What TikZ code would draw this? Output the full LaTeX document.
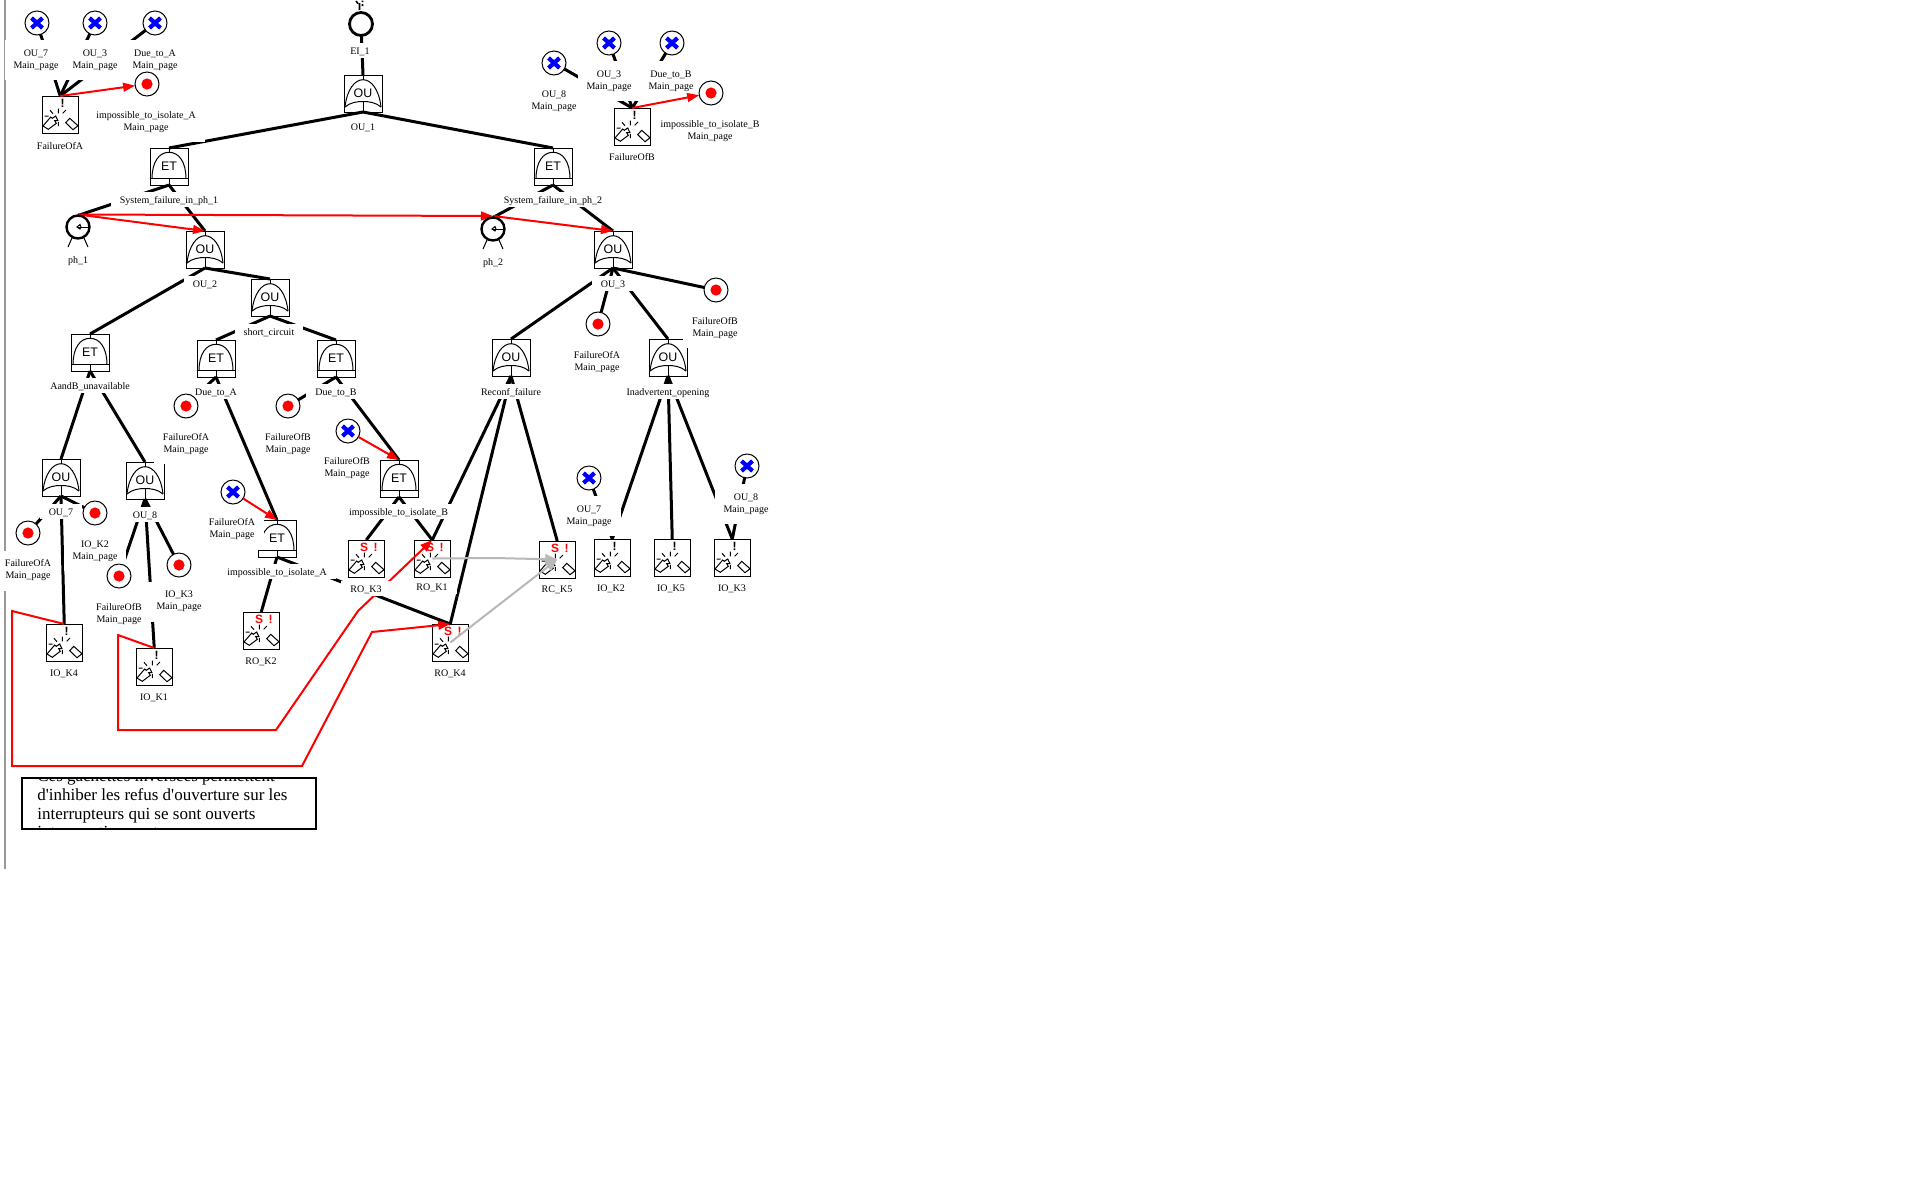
\documentclass[tikz,border=0pt]{standalone}
\usepackage{fontspec}
\setmainfont{Liberation Serif}
\newfontfamily\arialf{Liberation Sans}
\newfontfamily\notef{Liberation Serif}
\usetikzlibrary{arrows.meta}
\pgfdeclarelayer{front}
\pgfsetlayers{main,front}
\tikzset{
  gatebase/.style={draw,line width=.5pt,fill=white,rectangle,inner sep=0pt,outer sep=0pt,
    minimum width=19pt,minimum height=18.5pt},
  gatetxt/.style={inner sep=0pt,font=\arialf\fontsize{6.2pt}{7pt}\selectfont},
  orgate/.style={gatebase,path picture={
      \draw[line width=.5pt] (0,-18.5)--(0,-13.8) (0,8)--(0,18.5);
      \draw[line width=.5pt] (-18,13.5) .. controls (-16,-4.5) and (-8,-13.8) .. (0,-13.8) .. controls (8,-13.8) and (16,-4.5) .. (18,13.5);
      \draw[line width=.5pt] (-18,13.5) .. controls (-13,9) and (-6,8) .. (0,8) .. controls (6,8) and (13,9) .. (18,13.5);
      \node[gatetxt] at (0,-.5) {#1};
    }},
  andgate/.style={gatebase,path picture={
      \draw[line width=.5pt] (0,-18.5)--(0,-14.2) (0,12.2)--(0,18.5) (-19,12.2)--(19,12.2);
      \draw[line width=.5pt] (-17,12.2) .. controls (-17,-4.5) and (-10,-14.2) .. (0,-14.2) .. controls (10,-14.2) and (17,-4.5) .. (17,12.2);
      \node[gatetxt] at (0,-.5) {#1};
    }},
  evbase/.style={draw,line width=.5pt,fill=white,rectangle,inner sep=0pt,outer sep=0pt,
    minimum width=18.25pt,minimum height=18.5pt},
  evpic/.pic={
      \draw[line width=.5pt] (-17.25,11.5)--(-9.55,2.5)--(-7.95,3.8)--(-4.55,1.5)--(-2.25,6.2)--(-5.55,6.2)--(-3.95,8.8)--(-11.95,14.8)--cycle;
      \draw[line width=.5pt] (5.45,8.2)--(9.45,3.8)--(17.75,11.2)--(12.75,15.2)--cycle;
      \draw[line width=.5pt] (-1.95,-5.8)--(-1.95,-1.2) (-10.25,-4.2)--(-7.25,-.8) (5.75,-4.5)--(2.45,-1.2)
        (-15.55,1.5)--(-11.55,1.5) (-1.95,7.5)--(-1.95,11.5);
  },
  plainev/.style={evbase,path picture={
      \pic {evpic};
      \node[inner sep=0pt,font=\arialf\bfseries\fontsize{6pt}{6pt}\selectfont] at (2.45,-11.2) {!};
    }},
  sev/.style={evbase,path picture={
      \pic {evpic};
      \node[inner sep=0pt,text=red,font=\arialf\bfseries\fontsize{6pt}{6pt}\selectfont] at (-2.25,-11.2) {S};
      \node[inner sep=0pt,text=red,font=\arialf\bfseries\fontsize{6pt}{6pt}\selectfont] at (9.45,-11.2) {!};
    }},
  xc/.style={circle,draw,line width=.5pt,fill=white,minimum size=12pt,inner sep=0pt,outer sep=0pt,
    path picture={
      \draw[blue,line width=2.1pt] (-5.5,-5)--(5.5,5);
      \draw[blue,line width=2.1pt] (-5.5,5)--(5.5,-5);
    }},
  rc/.style={circle,draw,line width=.5pt,fill=white,minimum size=12pt,inner sep=0pt,outer sep=0pt,
    path picture={\fill[red] (0,0) circle[radius=5.6];}},
  clk/.style={circle,draw,line width=1.2pt,fill=white,minimum size=11.5pt,inner sep=0pt,outer sep=0pt,
    path picture={
        \draw[line width=.5pt] (-1,0)--(12,0);
        \draw[line width=.5pt] (-1,0)--(2,-2.5)--(3,0)--(2,2)--cycle;
      }},
  ring/.style={circle,draw,line width=1.4pt,fill=white,minimum size=11.5pt,inner sep=0pt,outer sep=0pt},
  lab/.style={fill=white,inner xsep=4.5pt,inner ysep=0pt,outer sep=0pt,
    text height=5.65pt,text depth=1.85pt,yshift=.25pt,
    font=\fontsize{5pt}{6pt}\selectfont},
  lab2/.style={fill=white,inner xsep=4.5pt,inner ysep=0pt,outer sep=0pt,align=center,
    minimum height=20pt,yshift=-.5pt,
    font=\fontsize{5pt}{6pt}\selectfont},
  blk/.style={line width=1.5pt,black},
  rarr/.style={line width=1pt,red,-{Triangle[length=6pt,width=4.4pt]}},
  garr/.style={line width=1pt,black!28,-{Triangle[length=6pt,width=5pt]}},
  notetxt/.style={anchor=base west,inner sep=0pt,font=\notef\fontsize{8.5pt}{9.5pt}\selectfont},
}
\begin{document}
\begin{tikzpicture}[x=.5pt,y=-.5pt]
\useasboundingbox (0,0) rectangle (1920,1200);
\fill[white] (0,0) rectangle (1920,1200);
\draw[black!40,line width=.9pt] (5,0)--(5,869);

% gates
\node[orgate=OU] (ou1) at (363,93.5) {};
\node[andgate=ET] (et1) at (169,166.5) {};
\node[andgate=ET] (et2) at (553,166.5) {};
\node[orgate=OU] (ou2) at (205,249.5) {};
\node[orgate=OU] (ou3) at (613,249.5) {};
\node[orgate=OU] (sc) at (270,297.5) {};
\node[andgate=ET] (ab) at (90,352.5) {};
\node[andgate=ET] (da) at (216,358.5) {};
\node[andgate=ET] (db) at (336,358.5) {};
\node[orgate=OU] (ou7) at (61,477.5) {};
\node[orgate=OU] (ou8) at (145,480.5) {};
\node[andgate=ET] (ia) at (277,538.5) {};
\node[andgate=ET] (ib) at (399,478.5) {};
\node[orgate=OU] (rf) at (511,357.5) {};
\node[orgate=OU] (io) at (668,357.5) {};

% basic events
\node[plainev] (fa) at (60.25,114.5) {};
\node[plainev] (fb) at (632.25,126.5) {};
\node[plainev] (k4) at (64.25,642.5) {};
\node[plainev] (k1) at (154.25,666.5) {};
\node[sev] (r2) at (261.25,630.5) {};
\node[sev] (r4) at (450.25,642.5) {};
\node[sev] (r3) at (366.25,558.5) {};
\node[sev] (r1) at (432.25,558.5) {};
\node[sev] (c5) at (557.25,559.5) {};
\node[plainev] (k2b) at (612.25,557.5) {};
\node[plainev] (k5b) at (672.25,557.5) {};
\node[plainev] (k3b) at (732.25,557.5) {};

\begin{pgfonlayer}{front}
% transfer circles
\node[xc] (x1) at (37,23) {};
\node[xc] (x2) at (95,23) {};
\node[xc] (x3) at (155,23) {};
\node[rc] (ra) at (147,84) {};
\node[xc] (x4) at (554,63) {};
\node[xc] (x5) at (609,43) {};
\node[xc] (x6) at (672,43) {};
\node[rc] (rb) at (711,93) {};
\node[rc] (c1) at (186,406) {};
\node[rc] (c2) at (288,406) {};
\node[xc] (x7) at (348,431) {};
\node[xc] (x8) at (233,492) {};
\node[rc] (c3) at (28,533) {};
\node[rc] (c4) at (95,513) {};
\node[rc] (c5r) at (119,576) {};
\node[rc] (c6) at (179,565) {};
\node[rc] (c7) at (598,324) {};
\node[rc] (c8) at (716,290) {};
\node[xc] (x9) at (589,478) {};
\node[xc] (x10) at (747,466) {};

% top event and phases
\node[ring] (ei) at (361,24) {};
\draw[line width=.8pt] (356,1)--(358,3.5) (359.5,3)--(359.5,10) (362.5,.5)--(362.5,2) (362.5,4)--(362.5,6);
\node[clk] (ph1) at (78,227) {};
\node[clk] (ph2) at (493,229) {};
\draw[line width=.5pt] (ph1.center)++(-6,11)--++(-4,9) (ph1.center)++(6,11)--++(4,9);
\draw[line width=.5pt] (ph2.center)++(-6,11)--++(-4,9) (ph2.center)++(6,11)--++(4,9);

% red arrows that pass over the labels
\draw[rarr] (x7)--(ib.north);
\draw[rarr] (x8)--(ia.north);
\draw[rarr] (fb.north)--(rb);
\end{pgfonlayer}

% bend points
\coordinate (a1) at (12,611);
\coordinate (a2) at (12,766);
\coordinate (a3) at (302,766);
\coordinate (a4) at (372,632);
\coordinate (b1) at (118,635);
\coordinate (b2) at (118,730);
\coordinate (b3) at (276,730);
\coordinate (b4) at (358,611);
\coordinate (g1) at (495,558);
\coordinate (p1) at ([yshift=.5pt]ph1.north);
\coordinate (p2) at ([yshift=.75pt]ph2.north);

% black connectors
\draw[blk] (ei)--(ou1.north);
\draw[blk] (ou1.south)--(et1.north);
\draw[blk] (ou1.south)--(et2.north);
\draw[blk] (et1.south)--(ph1.north);
\draw[blk] (et1.south)--(ou2.north);
\draw[blk] (et2.south)--(ph2.north);
\draw[blk] (et2.south)--(ou3.north);
\draw[blk] (ou2.south)--(ab.north);
\draw[blk] (ou2.south)--(sc.north);
\draw[blk] (sc.south)--(da.north);
\draw[blk] (sc.south)--(db.north);
\draw[blk] (ab.south)--(ou7.north);
\draw[blk] (ab.south)--(ou8.north);
\draw[blk] (ou7.south)--(c3);
\draw[blk] (ou7.south)--(c4);
\draw[blk] (ou7.south)--(k4.north);
\draw[blk] (ou8.south)--(c5r);
\draw[blk] (ou8.south)--(k1.north);
\draw[blk] (ou8.south)--(c6);
\draw[blk] (da.south)--(c1);
\draw[blk] (da.south)--(ia.north);
\draw[blk] (db.south)--(c2);
\draw[blk] (db.south)--(ib.north);
\draw[blk] (ia.south)--(r2.north);
\draw[blk] (ia.south)--(r4.north);
\draw[blk] (ib.south)--(r3.north);
\draw[blk] (ib.south)--(r1.north);
\draw[blk] (ou3.south)--(rf.north);
\draw[blk] (ou3.south)--(c7);
\draw[blk] (ou3.south)--(io.north);
\draw[blk] (ou3.south)--(c8);
\draw[blk] (rf.south)--(r1.north);
\draw[blk] (rf.south)--(r4.north);
\draw[blk] (rf.south)--(c5.north);
\draw[blk] (io.south)--(k2b.north);
\draw[blk] (io.south)--(k5b.north);
\draw[blk] (io.south)--(k3b.north);
\draw[blk] (x9)--(k2b.north);
\draw[blk] (x10)--(k3b.north);
\draw[blk] (x1)--(fa.north);
\draw[blk] (x2)--(fa.north);
\draw[blk] (x3)--(fa.north);
\draw[blk] (x4)--(fb.north);
\draw[blk] (x5)--(fb.north);
\draw[blk] (x6)--(fb.north);

% grey connectors
\draw[garr] (r1.center)--(g1)--(c5.center);
\draw[garr] (r4.center)--(c5.center);

% red connectors
\draw[rarr] (fa.north)--(ra);
\draw[rarr] (p1)--(ou2.north);
\draw[rarr] (p1)--(p2);
\draw[rarr] (p2)--(ou3.north);
\draw[rarr] (k4.north)--(a1)--(a2)--(a3)--(a4)--(r4.north);
\draw[rarr] (k1.north)--(b1)--(b2)--(b3)--(b4)--(r1.north);

% labels
\node[lab2] (l1) at (36,59) {OU\_7\\Main\_page};
\node[lab2] (l2) at (95,59) {OU\_3\\Main\_page};
\node[lab2] (l3) at (155,59) {Due\_to\_A\\Main\_page};
\node[lab2] (l4) at (146,121) {impossible\_to\_isolate\_A\\Main\_page};
\node[lab] (l5) at (60,146) {FailureOfA};
\node[lab] (l6) at (360,51) {EI\_1};
\node[lab] (l7) at (363,127.5) {OU\_1};
\node[lab] (l8) at (169,200) {System\_failure\_in\_ph\_1};
\node[lab] (l9) at (553,200) {System\_failure\_in\_ph\_2};
\node[lab] (l10) at (78,260) {ph\_1};
\node[lab] (l11) at (493,262) {ph\_2};
\node[lab2] (l12) at (554,100) {OU\_8\\Main\_page};
\node[lab2] (l13) at (609,80) {OU\_3\\Main\_page};
\node[lab2] (l14) at (671,80) {Due\_to\_B\\Main\_page};
\node[lab2] (l15) at (710,130) {impossible\_to\_isolate\_B\\Main\_page};
\node[lab] (l16) at (632,157.5) {FailureOfB};
\node[lab] (l17) at (205,284) {OU\_2};
\node[lab] (l18) at (613,284) {OU\_3};
\node[lab] (l19) at (269,332) {short\_circuit};
\node[lab] (l20) at (90,386) {AandB\_unavailable};
\node[lab] (l21) at (216,392) {Due\_to\_A};
\node[lab] (l22) at (336,392) {Due\_to\_B};
\node[lab] (l23) at (511,392) {Reconf\_failure};
\node[lab] (l24) at (668,392) {Inadvertent\_opening};
\node[lab2] (l25) at (186,443) {FailureOfA\\Main\_page};
\node[lab2] (l26) at (288,443) {FailureOfB\\Main\_page};
\node[lab2] (l27) at (347,467) {FailureOfB\\Main\_page};
\node[lab2] (l28) at (232,528.5) {FailureOfA\\Main\_page};
\node[lab] (l29) at (61,512) {OU\_7};
\node[lab] (l30) at (145,515) {OU\_8};
\node[lab] (l31) at (277,572) {impossible\_to\_isolate\_A};
\node[lab] (l32) at (398.5,512) {impossible\_to\_isolate\_B};
\node[lab2] (l33) at (28,569.5) {FailureOfA\\Main\_page};
\node[lab2] (l34) at (95,550) {IO\_K2\\Main\_page};
\node[lab2] (l35) at (119,613) {FailureOfB\\Main\_page};
\node[lab2] (l36) at (179,600.5) {IO\_K3\\Main\_page};
\node[lab2] (l37) at (597,361) {FailureOfA\\Main\_page};
\node[lab2] (l38) at (715,327) {FailureOfB\\Main\_page};
\node[lab2] (l39) at (589,515) {OU\_7\\Main\_page};
\node[lab2] (l40) at (746,503) {OU\_8\\Main\_page};
\node[lab] (l41) at (64,673.5) {IO\_K4};
\node[lab] (l42) at (154,697.5) {IO\_K1};
\node[lab] (l43) at (261,661) {RO\_K2};
\node[lab] (l44) at (450,673.5) {RO\_K4};
\node[lab] (l45) at (366,589) {RO\_K3};
\node[lab] (l46) at (432,587) {RO\_K1};
\node[lab] (l47) at (557,589) {RC\_K5};
\node[lab] (l48) at (611,588) {IO\_K2};
\node[lab] (l49) at (671,588) {IO\_K5};
\node[lab] (l50) at (732,588) {IO\_K3};

% comment box
\node[draw,line width=1pt,rectangle,minimum width=147pt,minimum height=25.5pt,inner sep=0pt,outer sep=0pt] (note) at (169,803.5) {};
\begin{scope}
  \clip (22,777.5) rectangle (316,829.5);
  \node[notetxt] (n1) at (37,781) {Ces gâchettes inversées permettent};
  \node[notetxt] (n2) at (37,800) {d'inhiber les refus d'ouverture sur les};
  \node[notetxt] (n3) at (37,819) {interrupteurs qui se sont ouverts};
  \node[notetxt] (n4) at (37,837) {intempestivement};
\end{scope}
\end{tikzpicture}
\end{document}
